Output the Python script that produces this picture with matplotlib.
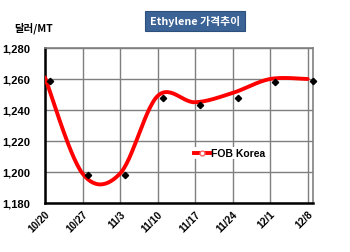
import numpy as np
import matplotlib
matplotlib.use("Agg")
import matplotlib.pyplot as plt
from matplotlib.lines import Line2D

plt.rcParams['font.family'] = ['Noto Sans CJK KR', 'DejaVu Sans']

dates = ["10/20", "10/27", "11/3", "11/10", "11/17", "11/24", "12/1", "12/8"]
day_offsets = [0, 7, 14, 21, 28, 35, 42, 49]
fob_korea = [1261, 1199, 1199, 1249, 1245, 1251, 1260, 1260]
marker_vals = [1259, 1198, 1198, 1248, 1243, 1248, 1258, 1259]
marker_shift = 1  # plotted one day later


def smooth(xs, ys, n=30):
    xs = np.asarray(xs, float); ys = np.asarray(ys, float)
    P = np.column_stack([xs, ys])
    out = []
    for i in range(len(P) - 1):
        p0 = P[i - 1] if i > 0 else P[i]
        p1 = P[i]; p2 = P[i + 1]
        p3 = P[i + 2] if i + 2 < len(P) else P[i + 1]
        c1 = p1 + (p2 - p0) / 6.0
        c2 = p2 - (p3 - p1) / 6.0
        t = np.linspace(0, 1, n)[:, None]
        seg = (1 - t) ** 3 * p1 + 3 * (1 - t) ** 2 * t * c1 + 3 * (1 - t) * t ** 2 * c2 + t ** 3 * p2
        out.append(seg if i == 0 else seg[1:])
    s = np.vstack(out)
    return s[:, 0], s[:, 1]


fig = plt.figure(figsize=(3.5, 2.53), dpi=100)
ax = fig.add_axes([45 / 350, 1 - 204 / 253, (313 - 45) / 350, (204 - 49) / 253])

sx, sy = smooth(day_offsets, fob_korea)
ax.plot(sx, sy, color='#ff0000', lw=2.8, solid_capstyle='round', zorder=3)
ax.plot([d + marker_shift for d in day_offsets], marker_vals, linestyle='none',
        marker='D', ms=3.2, color='black', zorder=4, clip_on=False)

ax.set_xlim(0, 50)
ax.set_ylim(1180, 1280)
ax.set_xticks(day_offsets)
ax.set_xticklabels(dates, rotation=45, ha='right', rotation_mode='anchor',
                   fontsize=7.3, fontweight='bold', family=['Liberation Sans', 'DejaVu Sans'])
ax.set_yticks(range(1180, 1281, 20))
ax.set_yticklabels([f"{v:,}" for v in range(1180, 1281, 20)], fontsize=8,
                   fontweight='bold', family=['Liberation Sans', 'DejaVu Sans'])
ax.tick_params(axis='both', length=0)
ax.tick_params(axis='y', pad=10.5)
ax.tick_params(axis='x', pad=4)

ax.grid(True, color='#7f7f7f', lw=1)
ax.set_axisbelow(True)
for s in ['left', 'bottom']:
    ax.spines[s].set_color('black'); ax.spines[s].set_linewidth(1.8)
for s in ['top', 'right']:
    ax.spines[s].set_color('#808080'); ax.spines[s].set_linewidth(1.2)

h = Line2D([0], [0], color='#ff0000', lw=2.8, marker='o', ms=3.5,
           markerfacecolor='white', markeredgecolor='#ff6666')
ax.legend([h], ["FOB Korea"], loc='center', bbox_to_anchor=(0.69, 0.32),
          frameon=True, framealpha=1, edgecolor='none', facecolor='white',
          handlelength=1.5, handletextpad=0.1, borderpad=0.1,
          prop={'size': 7.5, 'weight': 'bold', 'family': ['Liberation Sans', 'DejaVu Sans']})

fig.text(195 / 350, 1 - 22 / 253, "Ethylene 가격추이", ha='center', va='center',
         color='white', fontsize=7.8, fontweight='bold',
         bbox=dict(boxstyle='square,pad=0.42', facecolor='#3b6396', edgecolor='#2c4f7c', lw=0.8))
fig.text(14 / 350, 1 - 28 / 253, "달러/MT", ha='left', va='center',
         fontsize=7.5, fontweight='bold', color='black')

fig.savefig("out.png", dpi=100)
